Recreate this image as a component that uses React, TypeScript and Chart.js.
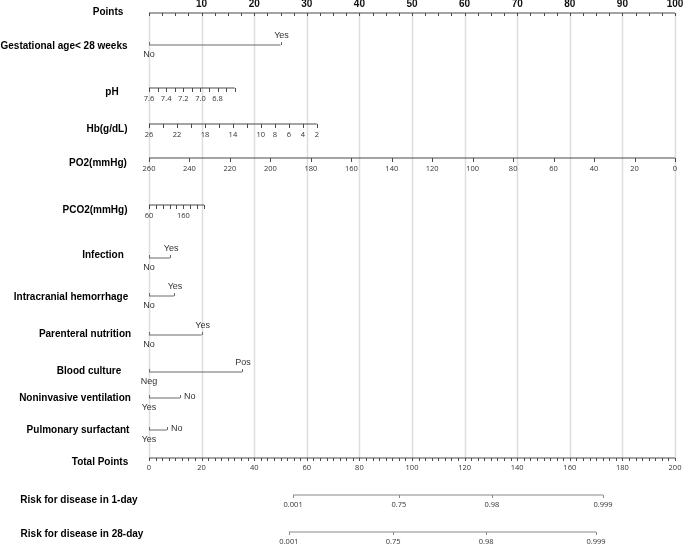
import React, { useEffect, useRef } from "react";
import { Chart, registerables } from "chart.js";

Chart.register(...registerables);

// ---------------- DATA ----------------
// Points scale
const pointsLabels = [10, 20, 30, 40, 50, 60, 70, 80, 90, 100];
const pointsMinorStep = 2.5;
const pointsMax = 100;

// Binary predictors: [low, high] category names and their points
const gestCats = ["No", "Yes"];
const gestPts = [0, 25];
const infectionCats = ["No", "Yes"];
const infectionPts = [0, 4];
const ichCats = ["No", "Yes"];
const ichPts = [0, 4.75];
const pnCats = ["No", "Yes"];
const pnPts = [0, 10];
const bcCats = ["Neg", "Pos"];
const bcPts = [0, 17.7];
const nivCats = ["Yes", "No"];
const nivPts = [0, 5.9];
const psCats = ["Yes", "No"];
const psPts = [0, 3.4];

// Continuous predictors: value range, points range, tick marks, labelled ticks
const pHRange = [7.6, 6.6];
const pHPtsRange = [0, 16.3];
const pHTicks = [7.6, 7.5, 7.4, 7.3, 7.2, 7.1, 7.0, 6.9, 6.8, 6.7, 6.6];
const pHLabels = [7.6, 7.4, 7.2, 7.0, 6.8];

const hbRange = [26, 2];
const hbPtsRange = [0, 31.9];
const hbTicks = [26, 24, 22, 20, 18, 16, 14, 12, 10, 8, 6, 4, 2];
const hbLabels = [26, 22, 18, 14, 10, 8, 6, 4, 2];

const po2Range = [260, 0];
const po2PtsRange = [0, 100];
const po2Ticks = [260, 240, 220, 200, 180, 160, 140, 120, 100, 80, 60, 40, 20, 0];
const po2Labels = [260, 240, 220, 200, 180, 160, 140, 120, 100, 80, 60, 40, 20, 0];

const pco2Range = [60, 220];
const pco2PtsRange = [0, 10.45];
const pco2Ticks = [60, 80, 100, 120, 140, 160, 180, 200, 220];
const pco2Labels = [60, 160];

// Total points
const totalMax = 200;
const totalLabels = [0, 20, 40, 60, 80, 100, 120, 140, 160, 180, 200];
const totalMinorStep = 2.5;

// Risk scales (probability label -> total points)
const risk1Labels = ["0.001", "0.75", "0.98", "0.999"];
const risk1Total = [54.8, 95, 130.4, 172.6];
const risk28Labels = ["0.001", "0.75", "0.98", "0.999"];
const risk28Total = [53.2, 92.8, 128.2, 170];

// ---------------- LAYOUT ----------------
const ROW = {
  points: { y: 13, label: "Points", lx: 108, ly: 12 },
  gest: { y: 45, label: "Gestational age< 28 weeks", lx: 64, ly: 46 },
  pH: { y: 88, label: "pH", lx: 112, ly: 92 },
  hb: { y: 124, label: "Hb(g/dL)", lx: 107, ly: 129 },
  po2: { y: 158, label: "PO2(mmHg)", lx: 98, ly: 163 },
  pco2: { y: 205, label: "PCO2(mmHg)", lx: 95, ly: 210 },
  infection: { y: 258, label: "Infection", lx: 103, ly: 255 },
  ich: { y: 296, label: "Intracranial hemorrhage", lx: 71, ly: 297 },
  pn: { y: 335, label: "Parenteral nutrition", lx: 85, ly: 334 },
  bc: { y: 372, label: "Blood culture", lx: 89, ly: 371 },
  niv: { y: 398, label: "Noninvasive ventilation", lx: 75, ly: 398 },
  ps: { y: 430, label: "Pulmonary surfactant", lx: 78, ly: 430 },
  total: { y: 458, label: "Total Points", lx: 100, ly: 462 },
  risk1: { y: 495, label: "Risk for disease in 1-day", lx: 79, ly: 500 },
  risk28: { y: 532, label: "Risk for disease in 28-day", lx: 82, ly: 534 },
};

const W = 685;
const H = 545;
const AREA = { left: 149, right: 675, top: 13, bottom: 458 };

const AXIS_COLOR = "#4a4a4a";
const BIN_COLOR = "#6a6a6a";
const RISK_COLOR = "#8a8a8a";
const GRID_COLOR = "#dedede";
const LABEL_FONT = "bold 10px 'Liberation Sans', Arial, sans-serif";
const TICK_FONT = "7.5px 'Open Sans', 'Noto Sans', sans-serif";
const CAT_FONT = "9px 'Liberation Sans', Arial, sans-serif";
const POINTS_FONT = "bold 10px 'Liberation Sans', Arial, sans-serif";

type Cont = { range: number[]; pts: number[]; ticks: number[]; labels: number[]; row: keyof typeof ROW; fmt: (v: number) => string };

const contAxes: Cont[] = [
  { range: pHRange, pts: pHPtsRange, ticks: pHTicks, labels: pHLabels, row: "pH", fmt: (v) => v.toFixed(1) },
  { range: hbRange, pts: hbPtsRange, ticks: hbTicks, labels: hbLabels, row: "hb", fmt: (v) => String(v) },
  { range: po2Range, pts: po2PtsRange, ticks: po2Ticks, labels: po2Labels, row: "po2", fmt: (v) => String(v) },
  { range: pco2Range, pts: pco2PtsRange, ticks: pco2Ticks, labels: pco2Labels, row: "pco2", fmt: (v) => String(v) },
];

type Bin = { cats: string[]; pts: number[]; row: keyof typeof ROW; side: boolean };
const binAxes: Bin[] = [
  { cats: gestCats, pts: gestPts, row: "gest", side: false },
  { cats: infectionCats, pts: infectionPts, row: "infection", side: false },
  { cats: ichCats, pts: ichPts, row: "ich", side: false },
  { cats: pnCats, pts: pnPts, row: "pn", side: false },
  { cats: bcCats, pts: bcPts, row: "bc", side: false },
  { cats: nivCats, pts: nivPts, row: "niv", side: true },
  { cats: psCats, pts: psPts, row: "ps", side: true },
];

const contToPts = (c: Cont, v: number) =>
  c.pts[0] + ((v - c.range[0]) / (c.range[1] - c.range[0])) * (c.pts[1] - c.pts[0]);
const totalToPts = (t: number) => (t * pointsMax) / totalMax;

export default function App() {
  const ref = useRef<HTMLCanvasElement | null>(null);

  useEffect(() => {
    const canvas = ref.current;
    if (!canvas) return;

    const datasets: any[] = [];
    const line = (p0: number, p1: number, y: number, color: string, w = 1) =>
      datasets.push({
        data: [
          { x: p0, y },
          { x: p1, y },
        ],
        borderColor: color,
        borderWidth: w,
        pointRadius: 0,
        fill: false,
        clip: false,
        tension: 0,
      });

    line(0, pointsMax, ROW.points.y, AXIS_COLOR, 1.2);
    binAxes.forEach((b) => line(b.pts[0], b.pts[1], ROW[b.row].y, BIN_COLOR));
    contAxes.forEach((c) => line(contToPts(c, c.range[0]), contToPts(c, c.range[1]), ROW[c.row].y, AXIS_COLOR, 1.2));
    line(0, totalToPts(totalMax), ROW.total.y, AXIS_COLOR, 1.2);
    line(totalToPts(risk1Total[0]), totalToPts(risk1Total[risk1Total.length - 1]), ROW.risk1.y, RISK_COLOR);
    line(totalToPts(risk28Total[0]), totalToPts(risk28Total[risk28Total.length - 1]), ROW.risk28.y, RISK_COLOR);

    const nomoPlugin = {
      id: "nomo",
      beforeDatasetsDraw(chart: any) {
        const ctx = chart.ctx;
        const xs = chart.scales.x;
        const ys = chart.scales.y;
        ctx.save();
        ctx.strokeStyle = GRID_COLOR;
        ctx.lineWidth = 1.5;
        for (let p = 0; p <= pointsMax; p += 10) {
          const x = Math.round(xs.getPixelForValue(p)) + 0.5;
          ctx.beginPath();
          ctx.moveTo(x, ys.getPixelForValue(ROW.points.y));
          ctx.lineTo(x, ys.getPixelForValue(ROW.total.y));
          ctx.stroke();
        }
        ctx.restore();
      },
      afterDatasetsDraw(chart: any) {
        const ctx = chart.ctx;
        const xs = chart.scales.x;
        const ys = chart.scales.y;
        const X = (p: number) => xs.getPixelForValue(p);
        const Y = (v: number) => ys.getPixelForValue(v);
        ctx.save();

        const tick = (x: number, y: number, len: number, color: string) => {
          ctx.strokeStyle = color;
          ctx.lineWidth = 1;
          const xx = Math.round(x) + 0.5;
          ctx.beginPath();
          ctx.moveTo(xx, y);
          ctx.lineTo(xx, y + len);
          ctx.stroke();
        };
        const text = (s: string, x: number, y: number, font: string, color: string, align: CanvasTextAlign = "center") => {
          ctx.font = font;
          ctx.fillStyle = color;
          ctx.textAlign = align;
          ctx.textBaseline = "middle";
          ctx.fillText(s, x, y);
        };

        // Row labels
        Object.values(ROW).forEach((r) => text(r.label, r.lx, Y(r.ly), LABEL_FONT, "#000"));

        // Points axis
        const py = Y(ROW.points.y);
        for (let p = 0; p <= pointsMax + 1e-9; p += pointsMinorStep) tick(X(p), py, 3, AXIS_COLOR);
        pointsLabels.forEach((v) => text(String(v), Math.min(X(v), W - 9), py - 9, POINTS_FONT, "#111"));

        // Continuous axes
        contAxes.forEach((c) => {
          const y = Y(ROW[c.row].y);
          c.ticks.forEach((v) => tick(X(contToPts(c, v)), y, 4, AXIS_COLOR));
          c.labels.forEach((v) => text(c.fmt(v), X(contToPts(c, v)), y + 11, TICK_FONT, "#333"));
        });

        // Binary axes
        binAxes.forEach((b) => {
          const y = Y(ROW[b.row].y);
          tick(X(b.pts[1]), y - 3, 3, BIN_COLOR);
          tick(X(b.pts[0]), y - 3, 3, BIN_COLOR);
          text(b.cats[0], X(b.pts[0]), y + 10, CAT_FONT, "#333");
          if (b.side) text(b.cats[1], X(b.pts[1]) + 4, y - 1, CAT_FONT, "#333", "left");
          else text(b.cats[1], X(b.pts[1]) + 1, y - 9, CAT_FONT, "#333");
        });

        // Total points axis
        const ty = Y(ROW.total.y);
        for (let t = 0; t <= totalMax + 1e-9; t += totalMinorStep) tick(X(totalToPts(t)), ty, 3, AXIS_COLOR);
        totalLabels.forEach((v) => text(String(v), Math.min(X(totalToPts(v)), W - 8), ty + 10, TICK_FONT, "#333"));

        // Risk axes
        const r1 = Y(ROW.risk1.y);
        risk1Total.forEach((t, i) => {
          tick(X(totalToPts(t)), r1, 3, RISK_COLOR);
          text(risk1Labels[i], X(totalToPts(t)), r1 + 10, TICK_FONT, "#333");
        });
        const r28 = Y(ROW.risk28.y);
        risk28Total.forEach((t, i) => {
          tick(X(totalToPts(t)), r28, 3, RISK_COLOR);
          text(risk28Labels[i], X(totalToPts(t)), r28 + 10, TICK_FONT, "#333");
        });

        ctx.restore();
      },
    };

    const chart = new Chart(canvas, {
      type: "line",
      data: { datasets },
      options: {
        animation: false,
        responsive: false,
        devicePixelRatio: 1,
        events: [],
        layout: {
          padding: { left: AREA.left, right: W - AREA.right, top: AREA.top, bottom: H - AREA.bottom },
        },
        plugins: { legend: { display: false }, tooltip: { enabled: false } },
        scales: {
          x: { type: "linear", min: 0, max: pointsMax, display: false },
          y: { type: "linear", min: AREA.top, max: AREA.bottom, reverse: true, display: false },
        },
      },
      plugins: [nomoPlugin],
    });

    return () => chart.destroy();
  }, []);

  return (
    <div style={{ position: "absolute", left: 0, top: 0, width: W, height: H, background: "#fff" }}>
      <canvas ref={ref} width={W} height={H} style={{ display: "block", width: W, height: H }} />
    </div>
  );
}
